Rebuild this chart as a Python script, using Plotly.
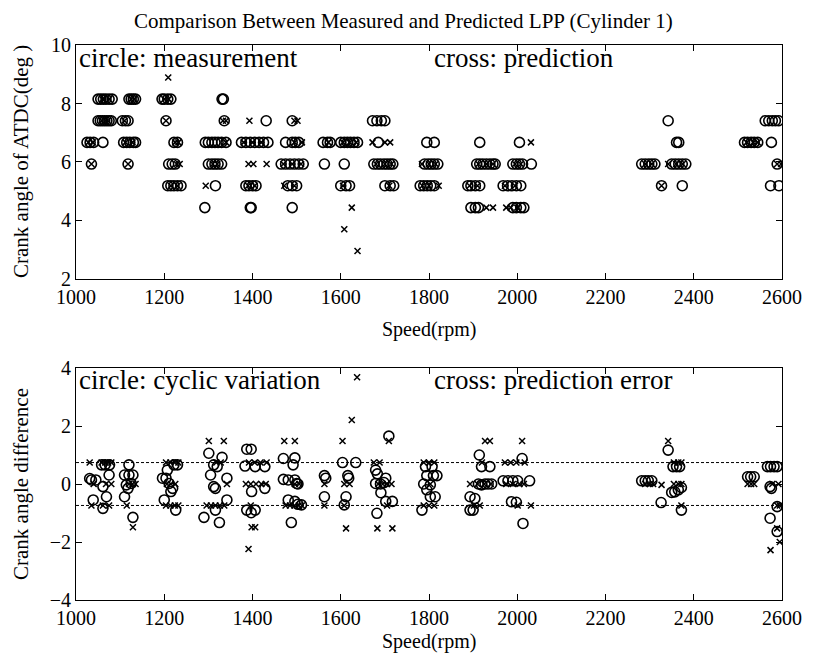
import plotly.graph_objects as go

# ---------------- data ----------------
rpm_ticks = [1000, 1200, 1400, 1600, 1800, 2000, 2200, 2400, 2600]
angle_ticks = [2, 4, 6, 8, 10]
diff_ticks = [-4, -2, 0, 2, 4]
band_limits = [0.74, -0.74]

# top panel: measured LPP (circles)
meas_rpm = [
    1050, 1056, 1062, 1068, 1075, 1082, 1120, 1125, 1130, 1135, 1195, 1200, 1208, 1215, 1331, 1334,
    1050, 1055, 1060, 1065, 1070, 1075, 1080, 1105, 1112, 1118, 1204, 1336, 1431, 1490, 1672, 1682,
    1692, 1700, 2342, 2562, 2570, 2578, 2585, 2592,
    1025, 1032, 1040, 1061, 1108, 1115, 1122, 1130, 1135, 1222, 1230, 1293, 1300, 1308, 1315, 1322,
    1330, 1340, 1375, 1385, 1395, 1405, 1415, 1425, 1435, 1475, 1490, 1497, 1505, 1560, 1570, 1576,
    1600, 1608, 1615, 1622, 1630, 1638, 1685, 1795, 1812, 1915, 2005, 2361, 2366, 2515, 2522, 2530,
    2537, 2545, 2576,
    1035, 1118, 1210, 1218, 1225, 1300, 1308, 1315, 1322, 1330, 1465, 1475, 1485, 1495, 1505, 1515,
    1563, 1608, 1675, 1683, 1690, 1698, 1705, 1712, 1718, 1790, 1798, 1805, 1812, 1820, 1908, 1915,
    1922, 1930, 1938, 1945, 1950, 1990, 1998, 2005, 2012, 2032, 2282, 2290, 2298, 2305, 2312, 2350,
    2358, 2366, 2374, 2382, 2589,
    1208, 1215, 1222, 1230, 1238, 1316, 1385, 1392, 1400, 1408, 1480, 1490, 1500, 1600, 1612, 1620,
    1700, 1712, 1720, 1780, 1788, 1796, 1804, 1812, 1888, 1895, 1905, 1915, 1968, 1978, 1988, 1998,
    2008, 2327, 2374, 2574, 2593,
    1292, 1395, 1397, 1490, 1895, 1905, 1912, 1990, 1998, 2008, 2015,
]
meas_angle = [
    8.15, 8.15, 8.15, 8.15, 8.15, 8.15, 8.15, 8.15, 8.15, 8.15, 8.15, 8.15, 8.15, 8.15, 8.15, 8.15,
    7.41, 7.41, 7.41, 7.41, 7.41, 7.41, 7.41, 7.41, 7.41, 7.41, 7.41, 7.41, 7.41, 7.41, 7.41, 7.41,
    7.41, 7.41, 7.41, 7.41, 7.41, 7.41, 7.41, 7.41,
    6.67, 6.67, 6.67, 6.67, 6.67, 6.67, 6.67, 6.67, 6.67, 6.67, 6.67, 6.67, 6.67, 6.67, 6.67, 6.67,
    6.67, 6.67, 6.67, 6.67, 6.67, 6.67, 6.67, 6.67, 6.67, 6.67, 6.67, 6.67, 6.67, 6.67, 6.67, 6.67,
    6.67, 6.67, 6.67, 6.67, 6.67, 6.67, 6.67, 6.67, 6.67, 6.67, 6.67, 6.67, 6.67, 6.67, 6.67, 6.67,
    6.67, 6.67, 6.67,
    5.93, 5.93, 5.93, 5.93, 5.93, 5.93, 5.93, 5.93, 5.93, 5.93, 5.93, 5.93, 5.93, 5.93, 5.93, 5.93,
    5.93, 5.93, 5.93, 5.93, 5.93, 5.93, 5.93, 5.93, 5.93, 5.93, 5.93, 5.93, 5.93, 5.93, 5.93, 5.93,
    5.93, 5.93, 5.93, 5.93, 5.93, 5.93, 5.93, 5.93, 5.93, 5.93, 5.93, 5.93, 5.93, 5.93, 5.93, 5.93,
    5.93, 5.93, 5.93, 5.93, 5.93,
    5.19, 5.19, 5.19, 5.19, 5.19, 5.19, 5.19, 5.19, 5.19, 5.19, 5.19, 5.19, 5.19, 5.19, 5.19, 5.19,
    5.19, 5.19, 5.19, 5.19, 5.19, 5.19, 5.19, 5.19, 5.19, 5.19, 5.19, 5.19, 5.19, 5.19, 5.19, 5.19,
    5.19, 5.19, 5.19, 5.19, 5.19,
    4.44, 4.44, 4.44, 4.44, 4.44, 4.44, 4.44, 4.44, 4.44, 4.44, 4.44,
]

# top panel: predicted LPP (crosses)
pred_rpm = [
    1209,
    1060, 1075, 1125, 1132, 1200, 1210,
    1058, 1072, 1110, 1204, 1333, 1340, 1393, 1495, 1502,
    1028, 1038, 1112, 1128, 1225, 1232, 1340, 1380, 1400, 1420, 1495, 1512, 1572, 1605, 1620, 1635,
    1672, 1700, 1712, 2031, 2520, 2535, 2545,
    1035, 1118, 1228, 1235, 1310, 1320, 1391, 1402, 1432, 1470, 1490, 1510, 1680, 1700, 1715, 1784,
    1800, 1815, 1912, 1930, 1945, 1995, 2008, 2290, 2305, 2342, 2360, 2375, 2589, 2598,
    1215, 1230, 1294, 1390, 1405, 1472, 1495, 1605, 1710, 1785, 1800, 1822, 1892, 1910, 1972, 1995,
    2327,
    1625, 1930, 1945, 1975, 1985, 2000,
    1608,
    1638,
]
pred_angle = [
    8.89,
    8.15, 8.15, 8.15, 8.15, 8.15, 8.15,
    7.41, 7.41, 7.41, 7.41, 7.41, 7.41, 7.41, 7.41, 7.41,
    6.67, 6.67, 6.67, 6.67, 6.67, 6.67, 6.67, 6.67, 6.67, 6.67, 6.67, 6.67, 6.67, 6.67, 6.67, 6.67,
    6.67, 6.67, 6.67, 6.67, 6.67, 6.67, 6.67,
    5.93, 5.93, 5.93, 5.93, 5.93, 5.93, 5.93, 5.93, 5.93, 5.93, 5.93, 5.93, 5.93, 5.93, 5.93, 5.93,
    5.93, 5.93, 5.93, 5.93, 5.93, 5.93, 5.93, 5.93, 5.93, 5.93, 5.93, 5.93, 5.93, 5.93,
    5.19, 5.19, 5.19, 5.19, 5.19, 5.19, 5.19, 5.19, 5.19, 5.19, 5.19, 5.19, 5.19, 5.19, 5.19, 5.19,
    5.19,
    4.44, 4.44, 4.44, 4.44, 4.44, 4.44,
    3.70,
    2.96,
]

# bottom panel: cyclic variation (circles)
cyc_rpm = [
    1031, 1035, 1039, 1058, 1061, 1069, 1061, 1075, 1076, 1066, 1045,
    1120, 1110, 1129, 1114, 1125, 1110, 1129, 1118, 1120,
    1196, 1207, 1211, 1215, 1219, 1200, 1230, 1226, 1204, 1222,
    1301, 1305, 1312, 1320, 1331, 1312, 1316, 1342, 1342, 1290, 1316, 1325,
    1387, 1397, 1383, 1406, 1428, 1398, 1428, 1387, 1397, 1406,
    1470, 1496, 1492, 1470, 1481, 1496, 1503, 1481, 1496, 1511, 1488, 1500, 1503,
    1563, 1563, 1566,
    1604, 1634, 1616, 1612, 1608, 1618,
    1709, 1679, 1683, 1702, 1679, 1691, 1702, 1717, 1682, 1690, 1698,
    1792, 1807, 1818, 1788, 1803, 1803, 1814, 1784, 1795, 1810, 1795,
    1914, 1919, 1938, 1893, 1904, 1900, 1893, 1919, 1927, 1934, 1942, 1912,
    2011, 1968, 1979, 1990, 2001, 2028, 1987, 1998, 2013,
    2282, 2290, 2297, 2305,
    2326, 2342, 2353, 2361, 2368, 2350, 2357, 2365, 2372, 2372,
    2522, 2529, 2537,
    2567, 2574, 2582, 2589, 2573, 2576, 2573, 2589, 2589,
]
cyc_diff = [
    0.19, 0.14, -0.55, 0.66, -0.09, -0.44, -0.84, 0.31, 0.66, 0.66, 0.14,
    0.66, 0.31, 0.31, -0.03, 0.02, -0.44, -1.15, -0.15, 0.31,
    0.20, 0.48, 0.02, -0.26, -0.15, -0.55, 0.66, -0.90, 0.20, 0.66,
    1.06, 0.31, 0.66, 0.60, 0.92, -0.09, -0.15, 0.20, -0.55, -1.15, -0.90, -1.33,
    1.20, 1.20, 0.62, 0.60, 0.60, -0.26, -0.15, -0.90, -0.99, -0.90,
    0.88, 0.90, 0.66, 0.16, 0.14, 0.14, 0.00, -0.55, -0.60, -0.72, -1.33, 0.02, -0.70,
    0.29, -0.44, 0.20,
    0.74, 0.74, 0.29, -0.44, -0.72, 0.20,
    1.65, 0.48, 0.35, 0.20, 0.02, -0.30, -0.60, -0.60, -1.01, 0.00, 0.05,
    0.60, 0.60, 0.29, 0.00, -0.03, -0.44, -0.44, -0.90, 0.29, 0.29, -0.20,
    1.00, 0.60, 0.60, -0.44, -0.50, -0.90, -0.90, -0.03, 0.00, 0.00, 0.00, 0.00,
    0.88, 0.11, 0.11, 0.11, 0.11, 0.11, -0.61, -0.63, -1.36,
    0.11, 0.11, 0.11, 0.11,
    -0.64, 1.17, 0.60, 0.60, 0.60, -0.29, -0.27, -0.20, -0.12, -0.90,
    0.25, 0.25, 0.25,
    0.60, 0.60, 0.60, 0.60, -0.09, -0.15, -1.18, -0.78, -1.64,
]

# bottom panel: prediction error (crosses)
err_rpm = [
    1031, 1058, 1066, 1073, 1080, 1035, 1061, 1075, 1068, 1080, 1040,
    1120, 1128, 1135, 1115, 1129,
    1204, 1214, 1224, 1232, 1206, 1215, 1225, 1204, 1214, 1224, 1232,
    1301, 1335, 1318, 1328, 1342, 1296, 1306, 1316, 1326, 1336,
    1392, 1405, 1418, 1432, 1385, 1396, 1408, 1420, 1430, 1398, 1406, 1391, 1396,
    1472, 1496, 1475, 1485, 1495, 1505, 1512, 1496, 1506,
    1563, 1563,
    1604, 1625, 1637, 1608, 1608, 1612, 1620,
    1675, 1688, 1709, 1685, 1695, 1705, 1715, 1705, 1683, 1717,
    1788, 1800, 1812, 1788, 1800, 1812, 1803,
    1927, 1938, 1893, 1910, 1925, 1940, 1902, 1915, 1920,
    1972, 1985, 1998, 2011, 2017, 1975, 1990, 2005, 2015, 2001, 2031,
    2290, 2300, 2308,
    2327, 2342, 2355, 2365, 2372, 2355, 2365, 2372, 2372,
    2522, 2530, 2537,
    2578, 2592, 2589, 2595, 2589, 2574, 2595,
]
err_diff = [
    0.74, 0.74, 0.74, 0.74, 0.74, -0.74, -0.74, -0.74, 0.00, 0.00, 0.00,
    0.00, 0.00, 0.00, -0.74, -1.49,
    0.74, 0.74, 0.74, 0.74, 0.00, 0.00, 0.00, -0.74, -0.74, -0.74, -0.74,
    1.48, 1.48, 0.74, 0.74, 0.00, -0.74, -0.74, -0.74, -0.74, -0.74,
    0.74, 0.74, 0.74, 0.74, 0.00, 0.00, 0.00, 0.00, 0.00, -1.49, -1.49, -2.24, -0.74,
    1.48, 1.48, -0.74, -0.74, -0.74, -0.74, -0.74, 0.00, 0.00,
    0.00, -0.74,
    1.48, 2.21, 3.68, 0.00, -0.74, -1.53, 0.00,
    0.74, 0.74, 1.48, 0.00, 0.00, 0.00, 0.00, -0.74, -1.53, -1.53,
    0.74, 0.74, 0.74, -0.74, -0.74, -0.74, 0.00,
    1.48, 1.48, 0.00, 0.00, 0.00, 0.00, -0.74, -0.74, 0.74,
    0.74, 0.74, 0.74, 1.48, 0.74, 0.00, 0.00, 0.00, 0.00, -0.74, -0.74,
    0.00, 0.00, 0.00,
    -0.03, 1.48, 0.74, 0.74, 0.74, 0.00, 0.00, 0.00, -0.74,
    0.00, 0.00, 0.00,
    0.00, 0.00, -0.74, -0.74, -1.53, -2.28, -2.00,
]

# ---------------- figure ----------------
FONT = "Liberation Serif"
circle_marker = dict(symbol="circle-open", size=10, color="black", line=dict(width=1.6, color="black"))
cross_marker = dict(symbol="x-thin-open", size=6, color="black", line=dict(width=1.5, color="black"))

fig = go.Figure()
fig.add_trace(go.Scatter(x=meas_rpm, y=meas_angle, mode="markers", marker=circle_marker,
                         xaxis="x", yaxis="y", showlegend=False))
fig.add_trace(go.Scatter(x=pred_rpm, y=pred_angle, mode="markers", marker=cross_marker,
                         xaxis="x", yaxis="y", showlegend=False))
fig.add_trace(go.Scatter(x=cyc_rpm, y=cyc_diff, mode="markers", marker=circle_marker,
                         xaxis="x2", yaxis="y2", showlegend=False))
fig.add_trace(go.Scatter(x=err_rpm, y=err_diff, mode="markers", marker=cross_marker,
                         xaxis="x2", yaxis="y2", showlegend=False))

for lim in band_limits:
    fig.add_shape(type="line", xref="x2 domain", x0=0, x1=1, yref="y2", y0=lim, y1=lim,
                  line=dict(color="black", width=1, dash="3px,2px"))

axis_common = dict(showline=True, linecolor="black", linewidth=1, mirror="ticks",
                   ticks="inside", ticklen=6, tickcolor="black", showgrid=False, zeroline=False,
                   tickfont=dict(family=FONT, size=20, color="black"))

# the page body adds an 8px offset, so the figure is drawn 8px smaller than the window
fig.update_layout(
    width=806, height=649,
    margin=dict(l=68, r=26, t=37, b=57),
    paper_bgcolor="white", plot_bgcolor="white",
    xaxis=dict(range=[1000, 2600], tickvals=rpm_ticks, anchor="y", domain=[0, 1], **axis_common),
    yaxis=dict(range=[2, 10], tickvals=angle_ticks, anchor="x", domain=[0.5784, 1], **axis_common),
    xaxis2=dict(range=[1000, 2600], tickvals=rpm_ticks, anchor="y2", domain=[0, 1], **axis_common),
    yaxis2=dict(range=[-4, 4], tickvals=diff_ticks, anchor="x2", domain=[0, 0.418], **axis_common),
)

def txt(text, size, **kw):
    fig.add_annotation(text=text, showarrow=False, borderpad=0,
                       font=dict(family=FONT, size=size, color="black"), **kw)

# title
txt("Comparison Between Measured and Predicted LPP (Cylinder 1)", 21,
    xref="paper", yref="paper", x=0.4635, y=1, yshift=24, xanchor="center", yanchor="middle")
# axis titles
txt("Speed(rpm)", 20, xref="x domain", yref="y domain", x=0.5, y=0, yshift=-51,
    xanchor="center", yanchor="middle")
txt("Speed(rpm)", 20, xref="x2 domain", yref="y2 domain", x=0.5, y=0, yshift=-41,
    xanchor="center", yanchor="middle")
txt("Crank angle of ATDC(deg )", 21, xref="x domain", yref="y domain", x=0, y=0.5, xshift=-55,
    xanchor="center", yanchor="middle", textangle=-90)
txt("Crank angle difference", 21, xref="x2 domain", yref="y2 domain", x=0, y=0.5, xshift=-55,
    xanchor="center", yanchor="middle", textangle=-90)
# in-plot labels
txt("circle: measurement", 27, xref="x domain", yref="y domain", x=0, y=1, xshift=2, yshift=-13,
    xanchor="left", yanchor="middle")
txt("cross: prediction", 27, xref="x", yref="y domain", x=1809, y=1, yshift=-13,
    xanchor="left", yanchor="middle")
txt("circle: cyclic variation", 27, xref="x2 domain", yref="y2 domain", x=0, y=1, xshift=2, yshift=-12,
    xanchor="left", yanchor="middle")
txt("cross: prediction error", 27, xref="x2", yref="y2 domain", x=1809, y=1, yshift=-12,
    xanchor="left", yanchor="middle")

fig.write_html("out.html")
